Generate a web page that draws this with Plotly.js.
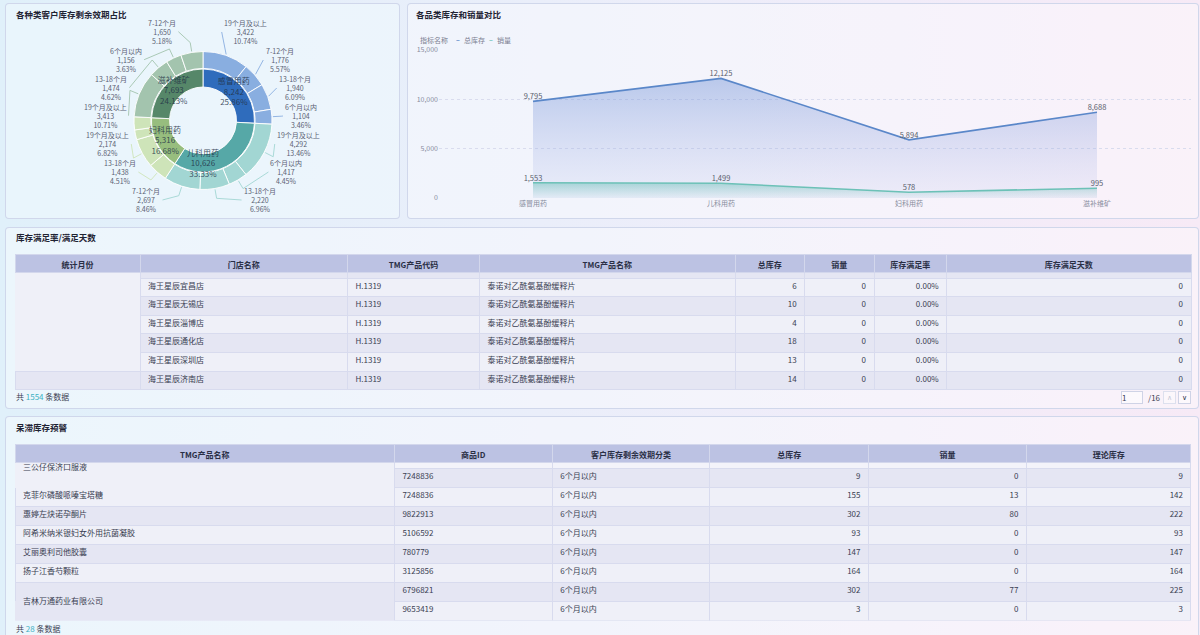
<!DOCTYPE html>
<html><head><meta charset="utf-8">
<script src="https://cdn.plot.ly/plotly-3.0.1.min.js"></script>
<style>
html,body{margin:0;padding:0;width:1200px;height:635px;overflow:hidden;}
body{background:linear-gradient(90deg,#e0f0fa 0%,#eaeefa 45%,#f1ecf9 75%,#f7eaf6 100%);font-family:"Noto Sans CJK SC",sans-serif;}
.card{position:absolute;border:1px solid rgba(206,213,234,0.95);border-radius:4px;background:rgba(255,255,255,0.38);box-sizing:border-box;}
#chart{position:absolute;left:0;top:0;width:1200px;height:635px;}
</style></head><body>
<div class="card" style="left:5px;top:3px;width:395px;height:216px;background:rgba(240,249,254,0.55)"></div>
<div class="card" style="left:407px;top:3px;width:792px;height:216px;"></div>
<div class="card" style="left:5px;top:227px;width:1194px;height:182px;"></div>
<div class="card" style="left:5px;top:416px;width:1194px;height:230px;"></div>
<div id="chart"></div>
<script>
// ---------------- data ----------------
const categories = ['感冒用药','儿科用药','妇科用药','滋补维矿'];
const categoryStock = [8242, 10626, 5316, 7693];

const shelfLabels = ['19个月及以上','7-12个月','13-18个月','6个月以内',
                     '19个月及以上','6个月以内','13-18个月','7-12个月',
                     '13-18个月','19个月及以上','6个月以内','7-12个月',
                     '19个月及以上','13-18个月','6个月以内','7-12个月'];
const shelfParents = ['感冒用药','感冒用药','感冒用药','感冒用药',
                      '儿科用药','儿科用药','儿科用药','儿科用药',
                      '妇科用药','妇科用药','妇科用药','妇科用药',
                      '滋补维矿','滋补维矿','滋补维矿','滋补维矿'];
const shelfValues = [3422, 1776, 1940, 1104,
                     4292, 1417, 2220, 2697,
                     1438, 2174, 730, 974,
                     3413, 1474, 1156, 1650];
const shelfLabelShown = [1,1,1,1, 1,1,1,1, 1,1,0,0, 1,1,1,1];

const totalStock = [9795, 12125, 5894, 8688];
const salesQty = [1553, 1499, 578, 995];

const t1Headers = ['统计月份','门店名称','TMG产品代码','TMG产品名称','总库存','销量','库存满足率','库存满足天数'];
const t1Month = ['','','','','',''];
const t1Store = ['海王星辰宜昌店','海王星辰无锡店','海王星辰淄博店','海王星辰通化店','海王星辰深圳店','海王星辰济南店'];
const t1Code = ['H.1319','H.1319','H.1319','H.1319','H.1319','H.1319'];
const t1Name = ['泰诺对乙酰氨基酚缓释片','泰诺对乙酰氨基酚缓释片','泰诺对乙酰氨基酚缓释片','泰诺对乙酰氨基酚缓释片','泰诺对乙酰氨基酚缓释片','泰诺对乙酰氨基酚缓释片'];
const t1Stock = [6, 10, 4, 18, 13, 14];
const t1Sales = [0, 0, 0, 0, 0, 0];
const t1Rate = ['0.00%','0.00%','0.00%','0.00%','0.00%','0.00%'];
const t1Days = [0, 0, 0, 0, 0, 0];
const t1Total = 1554;
const t1Page = 1, t1Pages = 16;

const t2Headers = ['TMG产品名称','商品ID','客户库存剩余效期分类','总库存','销量','理论库存'];
const t2Name = ['三公仔保济口服液','克菲尔磷酸哌嗪宝塔糖','惠婷左炔诺孕酮片','阿希米纳米银妇女外用抗菌凝胶','艾丽奥利司他胶囊','扬子江香芍颗粒','吉林万通药业有限公司',''];
const t2Id = ['7248836','7248836','9822913','5106592','780779','3125856','6796821','9653419'];
const t2Shelf = ['6个月以内','6个月以内','6个月以内','6个月以内','6个月以内','6个月以内','6个月以内','6个月以内'];
const t2Stock = [9, 155, 302, 93, 147, 164, 302, 3];
const t2Sales = [0, 13, 80, 0, 0, 0, 77, 0];
const t2Theory = [9, 142, 222, 93, 147, 164, 225, 3];
const t2Total = 28;

// ---------------- helpers / styles ----------------
const W = 1200, H = 635;
const px = x => x / W;
const py = y => 1 - y / H;
const pieDomain = (cx, cy, r) => ({x: [px(cx - r), px(cx + r)], y: [py(cy + r), py(cy - r)]});
const FONT = '"Noto Sans CJK SC", "Noto Sans", sans-serif';

const innerColors = {'感冒用药':'#2f6cbc','儿科用药':'#56a8a7','妇科用药':'#97bd7e','滋补维矿':'#568769'};
const outerColors = {'感冒用药':'#89aee0','儿科用药':'#a2d6d3','妇科用药':'#cee4b9','滋补维矿':'#a3c4ae'};
const DONUT = {cx: 203, cy: 120.5, rOuter: 69};

const LIGHT = '#eff0f8', DARK = '#e5e6f3', STRIP2 = '#f3f3fa', LINE = '#d8dbee', HEAD = '#bcc2e3', NONE = 'rgba(0,0,0,0)';
const TXT_SHIFT = 3.5;   // table text baseline correction (px)
const cellFont = {size: 8, color: '#3a3e52', family: FONT};
const headFont = {size: 8, color: '#2a2f45', family: FONT};

const traces = [];
const ann = [];
const shapes = [];
const txt = (x, y, text, opts) => ann.push(Object.assign({xref: 'paper', yref: 'paper', x: px(x), y: py(y), text: text,
  showarrow: false, xanchor: 'left', yanchor: 'middle', font: cellFont}, opts || {}));

// ---------------- donut ----------------
traces.push({
  type: 'pie', labels: shelfLabels.map((l, i) => shelfParents[i] + '-' + l + '-' + i), values: shelfValues,
  sort: false, direction: 'clockwise', rotation: 0, hole: 0.755,
  domain: pieDomain(DONUT.cx, DONUT.cy, DONUT.rOuter),
  marker: {colors: shelfParents.map(p => outerColors[p]), line: {color: 'rgba(255,255,255,0.9)', width: 1}},
  textinfo: 'none', hoverinfo: 'skip', showlegend: false
});
traces.push({
  type: 'pie', labels: categories, values: categoryStock,
  sort: false, direction: 'clockwise', rotation: 0, hole: 0.65,
  domain: pieDomain(DONUT.cx, DONUT.cy, 51.5),
  marker: {colors: categories.map(c => innerColors[c]), line: {color: 'rgba(255,255,255,0.9)', width: 1}},
  texttemplate: '%{label}<br>%{value:,}<br>%{percent:.2%}',
  textposition: 'inside', insidetextorientation: 'horizontal',
  textfont: {size: 8, color: 'rgba(35,50,72,0.85)', family: FONT},
  hoverinfo: 'skip', showlegend: false
});

// outer labels with leader lines (positions derived from the slice angles)
(function () {
  const total = shelfValues.reduce((a, b) => a + b, 0);
  const items = [];
  let cum = 0;
  shelfValues.forEach((v, i) => {
    const a0 = cum / total * 2 * Math.PI; cum += v; const a1 = cum / total * 2 * Math.PI;
    if (!shelfLabelShown[i]) return;
    const mid = (a0 + a1) / 2;
    items.push({i, v, mid, side: Math.sin(mid) >= 0 ? 1 : -1, y0: DONUT.cy - 90 * Math.cos(mid), pct: v / total * 100});
  });
  const GAP = 28, TOP = 20, BOT = 200, RC = 98;
  const textW = s => [...s].reduce((w, ch) => w + (/[\u4e00-\u9fff]/.test(ch) ? 7 : (ch === '%' ? 5.8 : 3.9)), 0);
  [1, -1].forEach(side => {
    const list = items.filter(d => d.side === side).sort((a, b) => a.y0 - b.y0);
    list.forEach((d, k) => { d.y = Math.max(d.y0, k ? list[k - 1].y + GAP : TOP); });
    for (let k = list.length - 1; k >= 0; k--) {
      const lim = k === list.length - 1 ? BOT : list[k + 1].y - GAP;
      list[k].y = Math.min(list[k].y, lim);
    }
    list.forEach(d => {
      const dy = d.y - DONUT.cy;
      d.x = DONUT.cx + side * Math.sqrt(Math.max(RC * RC - dy * dy, 38 * 38));
    });
  });
  const lf = {size: 7, color: '#5b6274', family: FONT};
  items.forEach(d => {
    const name = shelfLabels[d.i], val = d.v.toLocaleString('en-US'), pct = d.pct.toFixed(2) + '%';
    const half = Math.max(textW(name), textW(val), textW(pct)) / 2;
    txt(d.x, d.y, name + '<br>' + val + '<br>' + pct, {xanchor: 'center', align: 'center', font: lf});
    const ax = DONUT.cx + (DONUT.rOuter + 1) * Math.sin(d.mid), ay = DONUT.cy - (DONUT.rOuter + 1) * Math.cos(d.mid);
    const bx = DONUT.cx + 79 * Math.sin(d.mid), by = DONUT.cy - 79 * Math.cos(d.mid);
    const ex = d.x - d.side * (half + 2), ey = d.y;
    const pts = (d.side * (ex - bx) > 1) ? [[ax, ay], [bx, by], [ex, ey]] : [[ax, ay], [ex, ey]];
    shapes.push({type: 'path', xref: 'paper', yref: 'paper',
      path: pts.map((p, k) => (k ? 'L' : 'M') + px(p[0]).toFixed(5) + ',' + py(p[1]).toFixed(5)).join(' '),
      line: {color: outerColors[shelfParents[d.i]], width: 0.9}});
  });
})();

// ---------------- line / area chart ----------------
traces.push({
  type: 'scatter', x: categories, y: totalStock, mode: 'lines', line: {width: 0, color: NONE},
  fill: 'tozeroy', fillgradient: {type: 'vertical', colorscale: [[0, 'rgba(170,180,230,0.12)'], [1, 'rgba(105,140,212,0.42)']]},
  hoverinfo: 'skip', showlegend: false
});
traces.push({
  type: 'scatter', x: categories, y: salesQty, mode: 'lines', line: {width: 0, color: NONE},
  fill: 'tozeroy', fillgradient: {type: 'vertical', colorscale: [[0, 'rgba(110,195,185,0.05)'], [1, 'rgba(90,185,175,0.45)']]},
  hoverinfo: 'skip', showlegend: false
});
traces.push({
  type: 'scatter', x: categories, y: totalStock, mode: 'lines+text', name: '总库存',
  line: {width: 1.6, color: '#5a87c9'}, texttemplate: '%{y:,}', textposition: 'top center',
  textfont: {size: 7.5, color: '#5a5f6e', family: FONT}, hoverinfo: 'skip', showlegend: false
});
traces.push({
  type: 'scatter', x: categories, y: salesQty, mode: 'lines+text', name: '销量',
  line: {width: 1.6, color: '#6cc1b7'}, texttemplate: '%{y:,}', textposition: 'top center',
  textfont: {size: 7.5, color: '#5a5f6e', family: FONT}, hoverinfo: 'skip', showlegend: false
});

// ---------------- tables ----------------
const TX = [px(15), px(1191)];
function buildTable(o) {
  const blank = arr => arr.map(() => '');
  traces.push({
    type: 'table', domain: {x: TX, y: [py(o.top + o.headH + o.stripH), py(o.top)]}, columnwidth: o.widths,
    header: {values: blank(o.headers), height: o.headH, fill: {color: HEAD}, line: {color: '#d3d7ec', width: 1}},
    cells: {values: o.headers.map(() => ['']), height: o.stripH,
            fill: {color: o.stripFill}, line: {color: o.stripLine, width: 1}}
  });
  const rowsTop = o.top + o.headH + o.stripH;
  const rowsBottom = rowsTop + o.rowH * o.cols[0].length + 0.5;
  traces.push({
    type: 'table', domain: {x: TX, y: [py(rowsBottom), py(rowsTop)]}, columnwidth: o.widths,
    header: {values: blank(o.headers), height: o.rowH,
             fill: {color: o.fill.map(c => c[0])}, line: {color: o.line.map(c => c[0]), width: 1}},
    cells: {values: o.cols.map(c => blank(c.slice(1))), height: o.rowH,
            fill: {color: o.fill.map(c => c.slice(1))}, line: {color: o.line.map(c => c.slice(1)), width: 1}}
  });
  const s = TXT_SHIFT;
  traces.push({
    type: 'table', domain: {x: TX, y: [py(o.top + o.headH + o.stripH - s), py(o.top - s)]}, columnwidth: o.widths,
    header: {values: o.headers.map(h => '<b>' + h + '</b>'), height: o.headH, align: 'center',
             fill: {color: NONE}, line: {color: NONE, width: 0}, font: headFont},
    cells: {values: o.headers.map(() => ['']), height: o.stripH, fill: {color: NONE}, line: {color: NONE, width: 0}}
  });
  traces.push({
    type: 'table', domain: {x: TX, y: [py(rowsBottom - s), py(rowsTop - s)]}, columnwidth: o.widths,
    header: {values: o.cellText.map(c => c[0]), height: o.rowH, align: o.align,
             fill: {color: NONE}, line: {color: NONE, width: 0}, font: cellFont},
    cells: {values: o.cellText.map(c => c.slice(1)), height: o.rowH, align: o.align,
            fill: {color: NONE}, line: {color: NONE, width: 0}, font: cellFont}
  });
}
// text of a merged (spanning) cell, vertically centred at centerY
function spanText(o, col, text, centerY) {
  const top = centerY - 12;
  traces.push({
    type: 'table', domain: {x: TX, y: [py(top + o.rowH + 1), py(top)]}, columnwidth: o.widths,
    header: {values: o.headers.map((h, c) => c === col ? text : ''), height: o.rowH, align: o.align,
             fill: {color: NONE}, line: {color: NONE, width: 0}, font: cellFont},
    cells: {values: o.headers.map(() => ['']), height: 1, fill: {color: NONE}, line: {color: NONE, width: 0}}
  });
}

// ---- table 1 ----
const t1Cols = [t1Month, t1Store, t1Code, t1Name, t1Stock, t1Sales, t1Rate, t1Days];
buildTable({
  headers: t1Headers, widths: [125, 207.5, 132, 255.5, 69.7, 69.3, 72.7, 244.3],
  align: ['left','left','left','left','right','right','right','right'],
  top: 254, headH: 18, stripH: 6, rowH: 18.6,
  cols: t1Cols, cellText: t1Cols,
  stripFill: t1Headers.map((h, c) => c === 0 ? LIGHT : DARK),
  stripLine: t1Headers.map((h, c) => c === 0 ? LIGHT : LINE),
  fill: t1Cols.map((col, c) => col.map((v, r) => c === 0 ? (r < 5 ? LIGHT : DARK) : (r % 2 === 0 ? LIGHT : DARK))),
  line: t1Cols.map((col, c) => col.map((v, r) => (c === 0 && r < 5) ? LIGHT : LINE))
});

// ---- table 2 ----
const t2Cols = [t2Name, t2Id, t2Shelf, t2Stock, t2Sales, t2Theory];
const t2Spec = {
  headers: t2Headers, widths: [379.5, 158, 157.5, 158.7, 158, 164.6],
  align: ['left','left','left','right','right','right'],
  top: 444, headH: 18, stripH: 6.5, rowH: 19,
  cols: t2Cols,
  // merged product-name cells are drawn separately (spanText)
  cellText: t2Cols.map((col, c) => c === 0 ? col.map((v, r) => (r === 0 || r === 6) ? '' : v) : col),
  stripFill: t2Headers.map((h, c) => c === 0 ? LIGHT : STRIP2),
  stripLine: t2Headers.map((h, c) => c === 0 ? LIGHT : LINE),
  fill: t2Cols.map((col, c) => col.map((v, r) => {
    if (c === 0) { if (r === 0) return LIGHT; if (r === 7) return DARK; return (r % 2 === 1) ? LIGHT : DARK; }
    return r % 2 === 0 ? DARK : LIGHT;
  })),
  line: t2Cols.map((col, c) => col.map((v, r) => (c === 0 && r === 0) ? LIGHT : ((c === 0 && r === 7) ? DARK : LINE)))
};
buildTable(t2Spec);
spanText(t2Spec, 0, t2Name[0], 468);
spanText(t2Spec, 0, t2Name[6], 601.5);

// ---------------- annotations ----------------
const titleFont = {size: 8.5, color: '#1f2333', family: FONT};
txt(14, 14, '<b>各种类客户库存剩余效期占比</b>', {font: titleFont});
txt(414, 14, '<b>各品类库存和销量对比</b>', {font: titleFont});
txt(14, 237, '<b>库存满足率/满足天数</b>', {font: titleFont});
txt(14, 427, '<b>呆滞库存预警</b>', {font: titleFont});

const legFont = {size: 7, color: '#7c8192', family: FONT};
txt(418, 40, '指标名称', {font: legFont});
txt(454, 40, '<b>–</b>', {font: {size: 7, color: '#5a87c9', family: FONT}});
txt(462, 40, '总库存', {font: legFont});
txt(487, 40, '<b>–</b>', {font: {size: 7, color: '#6cc1b7', family: FONT}});
txt(495, 40, '销量', {font: legFont});

txt(14, 396, '共 <span style="color:#3cb1c2">' + t1Total + '</span> 条数据');
txt(14, 628.5, '共 <span style="color:#3cb1c2">' + t2Total + '</span> 条数据');

txt(1121, 397, String(t1Page), {width: 20, height: 11, align: 'left', bordercolor: '#cfd3e6', borderwidth: 1, borderpad: 0,
  bgcolor: 'rgba(255,255,255,0.55)'});
txt(1146, 397, '/' + t1Pages);
txt(1163, 397, '∧', {width: 11, height: 11, bordercolor: '#dde0ee', borderwidth: 1, borderpad: 0,
  bgcolor: 'rgba(255,255,255,0.4)', font: {size: 7, color: '#c3c7d6', family: 'DejaVu Sans'}});
txt(1178, 397, '∨', {width: 11, height: 11, bordercolor: '#cfd3e6', borderwidth: 1, borderpad: 0,
  bgcolor: 'rgba(255,255,255,0.55)', font: {size: 7, color: '#2a2f45', family: 'DejaVu Sans'}});

// ---------------- layout ----------------
const layout = {
  width: W, height: H, margin: {l: 0, r: 0, t: 0, b: 0},
  paper_bgcolor: NONE, plot_bgcolor: NONE,
  font: {family: FONT, size: 8, color: '#3a3e52'},
  showlegend: false,
  uniformtext: {minsize: 8, mode: 'show'},
  xaxis: {domain: [px(439), px(1191)], type: 'category', range: [-0.5, 3.5], showgrid: false, showline: false,
          zeroline: false, ticks: '', tickfont: {size: 7, color: '#878c9c'}, fixedrange: true},
  yaxis: {domain: [py(198), py(50)], range: [0, 15000], tickvals: [0, 5000, 10000, 15000], tickformat: ',',
          showgrid: true, gridcolor: '#d9dcee', griddash: 'dot', gridwidth: 1, zeroline: false, showline: false,
          ticks: '', tickfont: {size: 7, color: '#878c9c'}, fixedrange: true},
  annotations: ann,
  shapes: shapes
};

Plotly.newPlot('chart', traces, layout, {displayModeBar: false, staticPlot: true});
</script>
</body></html>
